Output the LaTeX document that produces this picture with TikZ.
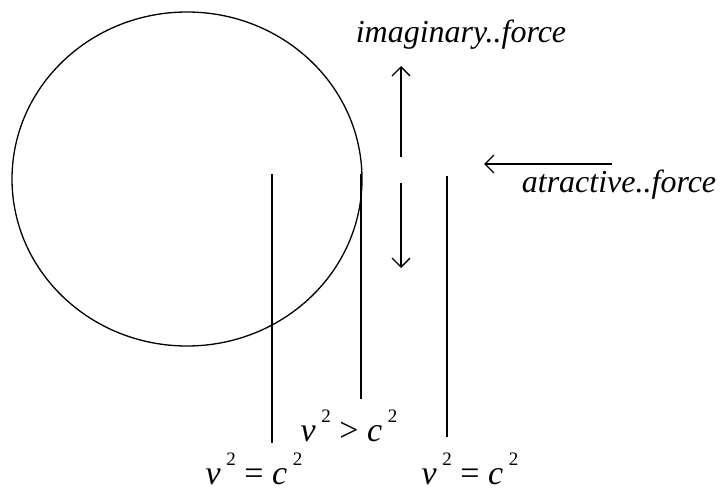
\documentclass[tikz,border=0pt]{standalone}
\usepackage{fontspec}
\setmainfont{Liberation Serif}
\usetikzlibrary{arrows.meta}
\newcommand{\sqv}[1]{\textit{#1}\,\raisebox{0.55em}{\fontsize{19}{20}\selectfont 2}}
\begin{document}
\begin{tikzpicture}[
  x=1pt, y=-1pt,
  ln/.style={line width=1.3pt},
  arr/.style={line width=1.3pt, -{Straight Barb[length=9pt, width=18pt, line width=1.3pt]}},
  lbl/.style={font=\fontsize{32}{36}\selectfont\itshape, anchor=base, inner sep=0pt},
  eqn/.style={font=\fontsize{34}{38}\selectfont, anchor=base, inner sep=0pt}
]
  \useasboundingbox (0,0) rectangle (720,492);

  %% Circle
  \draw[ln] (187,179) ellipse [x radius=175, y radius=167];

  %% Vertical lines
  \coordinate (la) at (272,174);  \coordinate (lb) at (272,443);
  \coordinate (ma) at (361,174);  \coordinate (mb) at (361,399);
  \coordinate (ra) at (447,176);  \coordinate (rb) at (447,437);
  \draw[ln] (la) -- (lb);
  \draw[ln] (ma) -- (mb);
  \draw[ln] (ra) -- (rb);

  %% Imaginary force arrows
  \coordinate (up1) at (401,157);  \coordinate (up2) at (401,66);
  \coordinate (dn1) at (401,183);  \coordinate (dn2) at (401,268);
  \draw[arr] (up1) -- (up2);
  \draw[arr] (dn1) -- (dn2);

  %% Attractive force arrow
  \coordinate (at1) at (612,164);  \coordinate (at2) at (484,164);
  \draw[arr] (at1) -- (at2);

  %% Labels
  \node[lbl] (imag) at (461,43) {imaginary..force};
  \node[lbl] (attr) at (619,192) {atractive..force};
  \node[eqn] (gt) at (349,441) {\sqv{v} > \sqv{c}};
  \node[eqn] (eql) at (254,484) {\sqv{v} = \sqv{c}};
  \node[eqn] (eqr) at (470,484) {\sqv{v} = \sqv{c}};
\end{tikzpicture}
\end{document}
